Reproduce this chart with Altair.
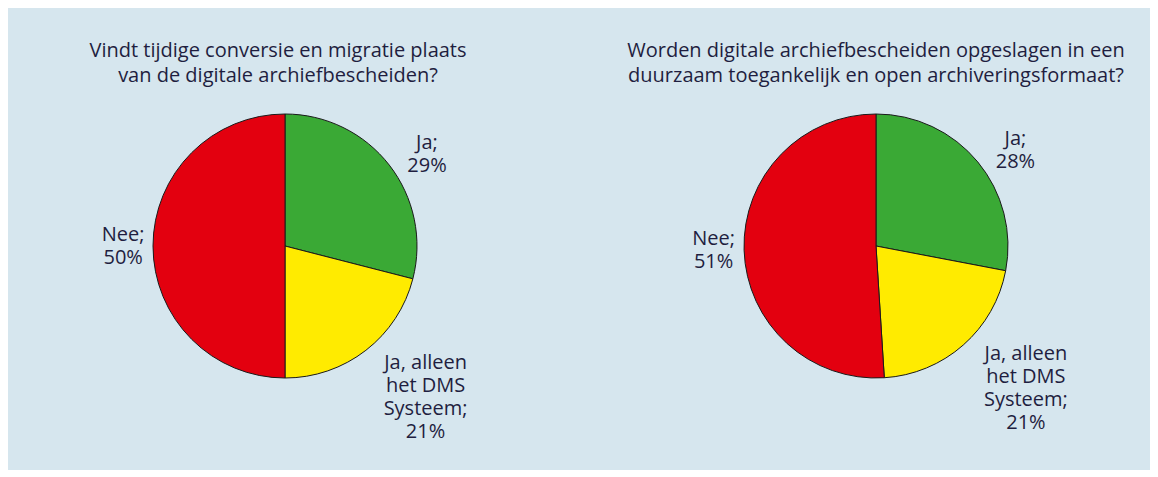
import altair as alt
import pandas as pd

# ---- data ----
categories = ["Ja", "Ja, alleen het DMS Systeem", "Nee"]
label_lines = [["Ja;"], ["Ja, alleen", "het DMS", "Systeem;"], ["Nee;"]]
colors = ["#3aa935", "#ffeb00", "#e3000f"]

q1_title = ["Vindt tijdige conversie en migratie plaats", "van de digitale archiefbescheiden?"]
q1_values = [29, 21, 50]

q2_title = ["Worden digitale archiefbescheiden opgeslagen in een",
            "duurzaam toegankelijk en open archiveringsformaat?"]
q2_values = [28, 21, 51]

BG = "#d6e6ee"
INK = "#1f1e40"
FONT = "Open Sans"
LINE_H = 23


def make_df(values):
    rows = []
    for i, (cat, lines, v) in enumerate(zip(categories, label_lines, values)):
        all_lines = lines + [f"{v}%"]
        rows.append({
            "idx": i,
            "cat": cat,
            "value": v,
            "label": "\n".join(all_lines),
            "nlines": len(all_lines),
            "maxlen": max(len(s) for s in all_lines),
        })
    return pd.DataFrame(rows)


def pie(values, title, width, title_dx):
    df = make_df(values)
    base = alt.Chart(df)
    arc = base.mark_arc(radius=132, stroke="#1a1a1a", strokeWidth=1).encode(
        theta=alt.Theta("value:Q", stack=True),
        color=alt.Color("cat:N", scale=alt.Scale(domain=categories, range=colors), legend=None),
        order=alt.Order("idx:Q"),
    )
    # labels: block centred near each slice's mid-angle (nudged towards the
    # horizontal), just outside the pie
    text = base.mark_text(
        font=FONT, fontSize=20, color=INK, lineBreak="\n", lineHeight=LINE_H,
        align="center", baseline="middle",
    ).transform_joinaggregate(
        total="sum(value)"
    ).transform_window(
        cum="sum(value)", sort=[alt.SortField("idx")], frame=[None, 0]
    ).transform_calculate(
        ang0="(datum.cum - datum.value / 2) / datum.total * 2 * PI",
    ).transform_calculate(
        ang="datum.ang0 + 0.09 * sin(2 * datum.ang0)",
    ).transform_calculate(
        rc="141 + abs(sin(datum.ang)) * (6 + datum.maxlen * 3.7) + abs(cos(datum.ang)) * datum.nlines * 12.5",
    ).transform_calculate(
        px="datum.rc * sin(datum.ang)",
        py=f"-datum.rc * cos(datum.ang) - (datum.nlines - 1) * {LINE_H} / 2",
    ).transform_calculate(
        r="sqrt(datum.px * datum.px + datum.py * datum.py)",
        ang2="atan2(datum.px, -datum.py)",
    ).encode(
        theta=alt.Theta("ang2:Q", scale=None, stack=False),
        radius=alt.Radius("r:Q", scale=None),
        text="label:N",
    )
    return alt.layer(arc, text).resolve_scale(
        theta="independent", radius="independent"
    ).properties(
        width=width,
        height=276,
        title=alt.TitleParams(
            text=title, font=FONT, fontSize=20, fontWeight="normal", color=INK,
            lineHeight=25, anchor="middle", offset=22, dx=title_dx,
        ),
    )


chart = alt.hconcat(
    pie(q1_values, q1_title, 554, -7),
    pie(q2_values, q2_title, 548, 0),
    spacing=40,
).properties(
    background=BG,
    padding={"top": 33, "left": 0, "right": 0, "bottom": 27},
).configure_view(stroke=None)

chart.save("out.html", embed_options={"renderer": "svg", "actions": False})
